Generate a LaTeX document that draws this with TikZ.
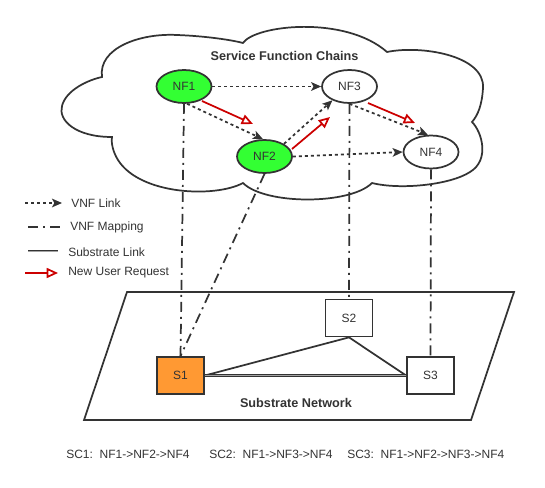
\documentclass[tikz,border=0pt]{standalone}
\usepackage{fontspec}
\setmainfont{Liberation Sans}
\usetikzlibrary{arrows.meta,shapes.geometric}
\definecolor{ink}{HTML}{333333}
\definecolor{nfgreen}{HTML}{33FF33}
\definecolor{sorange}{HTML}{FF9933}
\definecolor{reqred}{HTML}{CC0000}
\begin{document}
\begin{tikzpicture}[x=0.75pt,y=-0.75pt,
  nf/.style={ellipse,draw=ink,line width=1.3pt,minimum width=41.25pt,minimum height=24.75pt,inner sep=0pt,font=\fontsize{9}{11}\selectfont,text=ink},
  sn/.style={rectangle,draw=ink,line width=1.3pt,minimum width=35.25pt,minimum height=27.75pt,inner sep=0pt,font=\fontsize{9}{11}\selectfont,text=ink},
  vnflink/.style={draw=ink,line width=1.3pt,dash pattern=on 2.25pt off 2.25pt,-{Stealth[length=7.5pt,width=6.5pt,inset=1.8pt]}},
  mapping/.style={draw=ink,line width=1.3pt,dash pattern=on 7.5pt off 3.75pt on 1.5pt off 3.75pt},
  sublink/.style={draw=ink,line width=1.3pt},
  dlink/.style={draw=ink,line width=0.75pt,double=ink!45,double distance=0.6pt},
  request/.style={draw=reqred,line width=1.3pt,-{Triangle[open,length=8.5pt,width=7.5pt,line width=1.3pt]}},
  lbl/.style={font=\fontsize{9}{11}\selectfont,text=ink,inner sep=0pt,anchor=west},
  title/.style={font=\fontsize{9.5}{11}\selectfont\bfseries,text=ink,inner sep=0pt}
]
\useasboundingbox (0,0) rectangle (545,488);

% cloud
\draw[ink,line width=1.3pt,fill=white]
  (102,77) .. controls (98,48) and (140,33) .. (177,35)
  .. controls (205,36) and (232,40) .. (243,43)
  .. controls (255,25) and (345,15) .. (387,52)
  .. controls (420,45) and (485,55) .. (483,88)
  .. controls (482,105) and (478,115) .. (472,122)
  .. controls (482,132) and (490,160) .. (470,172)
  .. controls (450,185) and (400,190) .. (372,183)
  .. controls (350,205) and (265,205) .. (243,183)
  .. controls (215,198) and (140,195) .. (118,160)
  .. controls (113,152) and (111,143) .. (112,137)
  .. controls (75,137) and (58,120) .. (62,106)
  .. controls (66,90) and (88,80) .. (102,77) -- cycle;
\node[title] (sfc) at (284.5,55.5) {Service Function Chains};

% substrate plane
\draw[ink,line width=1.3pt] (127,292) -- (514,292) -- (471,420) -- (84,420) -- cycle;
\node[title] (subnet) at (296,403) {Substrate Network};

% VNF nodes
\node[nf,fill=nfgreen] (NF1) at (184,86.5) {NF1};
\node[nf,fill=nfgreen] (NF2) at (264.5,156.5) {NF2};
\node[nf,fill=white] (NF3) at (349.5,86.5) {NF3};
\node[nf,fill=white] (NF4) at (431,152) {NF4};

% substrate nodes
\node[sn,fill=sorange] (S1) at (180.5,375.5) {S1};
\node[sn,fill=white] (S2) at (349,318) {S2};
\node[sn,fill=white] (S3) at (430.5,375.5) {S3};

% mappings
\draw[mapping] (NF1.south) -- (S1.north);
\draw[mapping] (NF2.south) -- (S1.north);
\draw[mapping] (NF3.south) -- (S2.north);
\draw[mapping] (NF4.south) -- (S3.north);

% substrate links
\draw[sublink] (S1.east) -- (S2.south);
\draw[sublink] (S2.south) -- (S3.west);
\draw[dlink] (S1.east) -- (S3.west);

% VNF links
\draw[vnflink] (NF1.east) -- (NF3.west);
\draw[vnflink] (NF1.-80) -- (NF2.95);
\draw[vnflink] (NF2.33) -- (NF3.-141);
\draw[vnflink] (NF2.east) -- (NF4.west);
\draw[vnflink] (NF3.south) -- (NF4.100);

% new user requests
\coordinate (r1a) at (202,101); \coordinate (r1b) at (253,124);
\coordinate (r2a) at (292,149); \coordinate (r2b) at (330,117);
\coordinate (r3a) at (368,103); \coordinate (r3b) at (415,123);
\draw[request] (r1a) -- (r1b);
\draw[request] (r2a) -- (r2b);
\draw[request] (r3a) -- (r3b);

% legend
\coordinate (l1a) at (25,203); \coordinate (l1b) at (62,203);
\coordinate (l2a) at (28,227); \coordinate (l2b) at (60,227);
\coordinate (l3a) at (28,251); \coordinate (l3b) at (58,251);
\coordinate (l4a) at (25,273); \coordinate (l4b) at (58,273);
\draw[vnflink] (l1a) -- (l1b);
\draw[mapping] (l2a) -- (l2b);
\draw[dlink] (l3a) -- (l3b);
\draw[request] (l4a) -- (l4b);
\node[lbl] (t1) at (71,203) {VNF Link};
\node[lbl] (t2) at (70,227) {VNF Mapping};
\node[lbl] (t3) at (68,252) {Substrate Link};
\node[lbl] (t4) at (68,273) {New User Request};

% service chains
\node[lbl] (sc1) at (66,454) {SC1:\ \ NF1->NF2->NF4};
\node[lbl] (sc2) at (209,454) {SC2:\ \ NF1->NF3->NF4};
\node[lbl] (sc3) at (347,454) {SC3:\ \ NF1->NF2->NF3->NF4};
\end{tikzpicture}
\end{document}
